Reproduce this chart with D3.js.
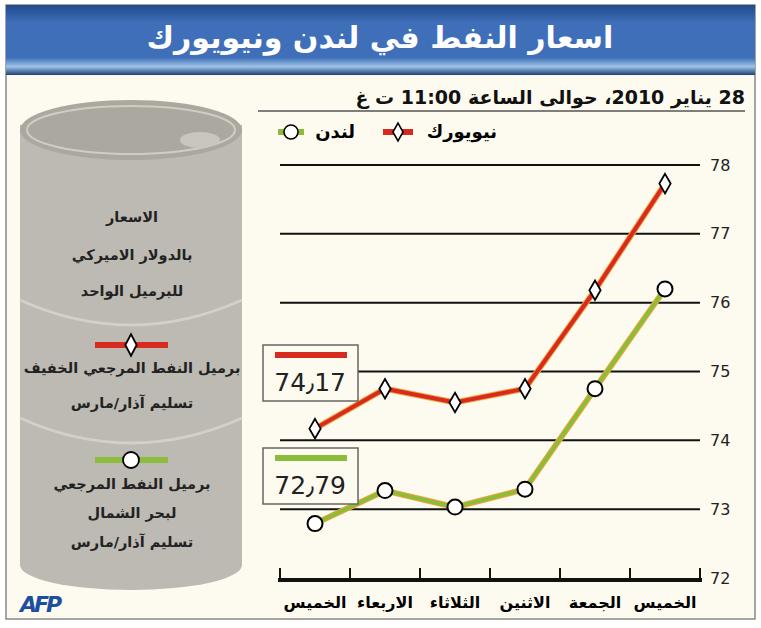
<!DOCTYPE html>
<html><head><meta charset="utf-8">
<script src="https://cdn.jsdelivr.net/npm/d3@7"></script>
<style>body{margin:0;background:#fff}text{font-family:"DejaVu Sans",sans-serif}</style>
</head><body><div id="container"></div>
<script>
var days = ['الخميس','الاربعاء','الثلاثاء','الاثنين','الجمعة','الخميس'];
var newYork = [74.17, 74.75, 74.55, 74.75, 76.18, 77.73];
var london = [72.79, 73.27, 73.03, 73.29, 74.75, 76.2];
var yTicks = [72, 73, 74, 75, 76, 77, 78];

var svg = d3.select('#container').append('svg').attr('width', 761).attr('height', 628);
var defs = svg.append('defs');
var g1 = defs.append('linearGradient').attr('id', 'hdr').attr('x1', 0).attr('y1', 0).attr('x2', 0).attr('y2', 1);
g1.append('stop').attr('offset', '0').attr('stop-color', '#1f4a8c');
g1.append('stop').attr('offset', '0.25').attr('stop-color', '#3f6fb8');
g1.append('stop').attr('offset', '0.75').attr('stop-color', '#3f6fb8');
g1.append('stop').attr('offset', '0.88').attr('stop-color', '#9cc3e6');
g1.append('stop').attr('offset', '1').attr('stop-color', '#1c3f78');

svg.append('rect').attr('x', 6).attr('y', 5).attr('width', 749).attr('height', 614)
  .attr('fill', '#fdfbf0').attr('stroke', '#888').attr('stroke-width', 1.5);
svg.append('rect').attr('x', 6).attr('y', 5).attr('width', 749).attr('height', 70).attr('fill', 'url(#hdr)');
svg.append('text').attr('x', 380).attr('y', 48).attr('text-anchor', 'middle').attr('fill', '#fff')
  .attr('font-size', 30).attr('font-weight', 'bold').text('اسعار النفط في لندن ونيويورك');
svg.append('text').attr('x', 745).attr('y', 104).attr('text-anchor', 'start').attr('direction', 'rtl')
  .attr('font-size', 19).attr('font-weight', 'bold').attr('fill', '#111').text('28 يناير 2010، حوالى الساعة 11:00 ت غ');
svg.append('line').attr('x1', 258).attr('x2', 745).attr('y1', 111).attr('y2', 111).attr('stroke', '#555').attr('stroke-width', 1.5);

// barrel
var bar = svg.append('g');
bar.append('rect').attr('x', 20).attr('y', 125).attr('width', 222).attr('height', 440).attr('fill', '#bcbab2');
bar.append('ellipse').attr('cx', 131).attr('cy', 565).attr('rx', 111).attr('ry', 25).attr('fill', '#bcbab2');
[300, 418].forEach(function(y){
  bar.append('path').attr('d', 'M20,' + y + ' Q131,' + (y + 50) + ' 242,' + y).attr('fill', 'none')
    .attr('stroke', '#d2d0c8').attr('stroke-width', 3);
});
bar.append('ellipse').attr('cx', 131).attr('cy', 130).attr('rx', 111).attr('ry', 30).attr('fill', '#aaa89f');
bar.append('ellipse').attr('cx', 131).attr('cy', 130).attr('rx', 104).attr('ry', 24).attr('fill', 'none').attr('stroke', '#cfcdc5').attr('stroke-width', 2);
bar.append('ellipse').attr('cx', 200).attr('cy', 140).attr('rx', 20).attr('ry', 8).attr('fill', '#c8c6be');

var bt = [['الاسعار', 222], ['بالدولار الاميركي', 260], ['للبرميل الواحد', 296],
  ['برميل النفط المرجعي الخفيف', 373], ['تسليم آذار/مارس', 408],
  ['برميل النفط المرجعي', 489], ['لبحر الشمال', 518], ['تسليم آذار/مارس', 547]];
bt.forEach(function(d){
  svg.append('text').attr('x', 132).attr('y', d[1]).attr('text-anchor', 'middle').attr('font-size', 14.5)
    .attr('font-weight', 'bold').attr('fill', '#222').text(d[0]);
});
svg.append('line').attr('x1', 95).attr('x2', 168).attr('y1', 345).attr('y2', 345).attr('stroke', '#d62b1e').attr('stroke-width', 6);
svg.append('path').attr('d', d3.symbol(d3.symbolDiamond, 110)()).attr('transform', 'translate(131,345) scale(1,1.1)')
  .attr('fill', '#fff').attr('stroke', '#000').attr('stroke-width', 1.8);
svg.append('line').attr('x1', 95).attr('x2', 168).attr('y1', 460).attr('y2', 460).attr('stroke', '#8cbd3a').attr('stroke-width', 6);
svg.append('circle').attr('cx', 131).attr('cy', 460).attr('r', 8).attr('fill', '#fff').attr('stroke', '#000').attr('stroke-width', 1.8);

// legend
svg.append('text').attr('x', 497).attr('y', 138).attr('text-anchor', 'end').attr('font-size', 18).attr('font-weight', 'bold').text('نيويورك');
svg.append('line').attr('x1', 383).attr('x2', 413).attr('y1', 132).attr('y2', 132).attr('stroke', '#d62b1e').attr('stroke-width', 6);
svg.append('path').attr('d', d3.symbol(d3.symbolDiamond, 90)()).attr('transform', 'translate(398,132)')
  .attr('fill', '#fff').attr('stroke', '#000').attr('stroke-width', 1.6);
svg.append('text').attr('x', 355).attr('y', 138).attr('text-anchor', 'end').attr('font-size', 18).attr('font-weight', 'bold').text('لندن');
svg.append('line').attr('x1', 278).attr('x2', 304).attr('y1', 132).attr('y2', 132).attr('stroke', '#8cbd3a').attr('stroke-width', 6);
svg.append('circle').attr('cx', 291).attr('cy', 132).attr('r', 7).attr('fill', '#fff').attr('stroke', '#000').attr('stroke-width', 1.6);

// chart
var x = d3.scalePoint().domain(d3.range(days.length)).range([315, 665]);
var y = d3.scaleLinear().domain([72, 78]).range([578, 165]);
var grid = svg.append('g');
yTicks.slice(1).forEach(function(t){
  grid.append('line').attr('x1', 280).attr('x2', 700).attr('y1', y(t)).attr('y2', y(t)).attr('stroke', '#111').attr('stroke-width', 2);
});
svg.append('g').attr('transform', 'translate(700,0)')
  .call(d3.axisRight(y).tickValues(yTicks).tickFormat(d3.format('d')).tickSize(0).tickPadding(10))
  .call(function(g){ g.select('.domain').remove(); g.selectAll('text').attr('font-size', 16).attr('fill', '#222').attr('font-family', 'Liberation Sans Narrow, Liberation Sans'); });
var xa = svg.append('g').attr('transform', 'translate(0,578)');
xa.append('line').attr('x1', 278).attr('x2', 702).attr('y1', 2).attr('y2', 2).attr('stroke', '#111').attr('stroke-width', 4);
d3.range(days.length + 1).forEach(function(i){
  var px = 280 + i * 70;
  xa.append('line').attr('x1', px).attr('x2', px).attr('y1', -10).attr('y2', 2).attr('stroke', '#111').attr('stroke-width', 2);
});
days.forEach(function(d, i){
  xa.append('text').attr('x', x(i)).attr('y', 30).attr('text-anchor', 'middle').attr('font-size', 16)
    .attr('font-weight', 'bold').text(d);
});

function series(vals, color, sym){
  var line = d3.line().x(function(d, i){ return x(i); }).y(function(d){ return y(d); });
  svg.append('path').datum(vals).attr('d', line).attr('fill', 'none').attr('stroke', '#f2a33a').attr('stroke-width', 6);
  svg.append('path').datum(vals).attr('d', line).attr('fill', 'none').attr('stroke', color).attr('stroke-width', 4);
  vals.forEach(function(v, i){
    if (sym === 'd') {
      svg.append('path').attr('d', d3.symbol(d3.symbolDiamond, 110)()).attr('transform', 'translate(' + x(i) + ',' + y(v) + ')')
        .attr('fill', '#fff').attr('stroke', '#000').attr('stroke-width', 1.8);
    } else {
      svg.append('circle').attr('cx', x(i)).attr('cy', y(v)).attr('r', 7.5).attr('fill', '#fff').attr('stroke', '#000').attr('stroke-width', 2);
    }
  });
}
series(newYork, '#d62b1e', 'd');
series(london, '#8cbd3a', 'c');

function box(top, color, val){
  svg.append('rect').attr('x', 263).attr('y', top).attr('width', 95).attr('height', 56).attr('fill', '#fdfbf0').attr('stroke', '#666').attr('stroke-width', 1.5);
  svg.append('line').attr('x1', 275).attr('x2', 347).attr('y1', top + 10).attr('y2', top + 10).attr('stroke', color).attr('stroke-width', 6);
  svg.append('text').attr('x', 346).attr('y', top + 46).attr('text-anchor', 'end').attr('font-size', 25)
    .attr('font-family', 'Liberation Sans Narrow, Liberation Sans').attr('fill', '#222').text(val);
}
box(345, '#d62b1e', '74٫17');
box(448, '#8cbd3a', '72٫79');

svg.append('text').attr('x', 20).attr('y', 612).attr('font-size', 22).attr('font-weight', 'bold').attr('font-style', 'italic')
  .attr('fill', '#1d4fa0').attr('letter-spacing', -3).text('AFP');
</script></body></html>
